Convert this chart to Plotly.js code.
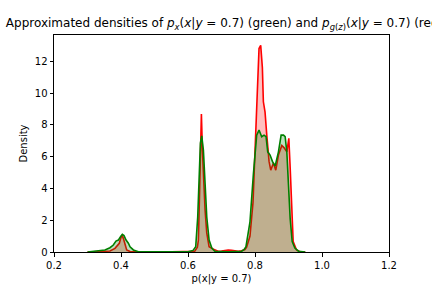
<!DOCTYPE html>
<html>
<head>
<meta charset="utf-8">
<script src="https://cdn.plot.ly/plotly-3.0.1.min.js"></script>
<style>html,body{margin:0;padding:0;background:#fff;}#chart{width:432px;height:288px;}</style>
</head>
<body>
<div id="chart"></div>
<script>
// Approximated density p_g(z)(x|y=0.7) (red)
const redX = [0.30,0.34,0.367,0.382,0.389,0.395,0.399,0.403,0.407,0.412,0.417,0.427,0.45,0.50,0.55,0.60,0.62,0.628,0.631,0.634,0.637,0.640,0.643,0.647,0.651,0.656,0.663,0.676,0.69,0.70,0.72,0.73,0.74,0.75,0.76,0.77,0.775,0.785,0.794,0.805,0.812,0.817,0.822,0.825,0.830,0.835,0.842,0.847,0.855,0.862,0.870,0.880,0.887,0.895,0.901,0.905,0.910,0.914,0.924,0.935,0.95];
const redY = [0,0.02,0.06,0.23,0.44,0.55,0.86,1.07,0.86,0.44,0.13,0.03,0.01,0.0,0.02,0.01,0.05,0.3,0.75,3.27,6.4,8.68,6.4,4.1,2.64,1.2,0.33,0.17,0.05,0.06,0.12,0.10,0.08,0.05,0.08,0.15,0.3,1.0,3.1,9.45,12.8,13.0,11.6,9.45,8.8,7.4,5.7,5.15,5.6,5.15,6.1,6.7,6.55,6.3,7.15,5.3,2.1,0.65,0.13,0.02,0];
// Approximated density p_x(x|y=0.7) (green)
const greenX = [0.30,0.337,0.352,0.367,0.377,0.385,0.392,0.399,0.404,0.409,0.415,0.422,0.427,0.437,0.452,0.50,0.60,0.615,0.623,0.629,0.633,0.637,0.641,0.646,0.651,0.656,0.663,0.671,0.68,0.72,0.76,0.767,0.773,0.785,0.795,0.805,0.812,0.820,0.827,0.833,0.838,0.845,0.852,0.860,0.870,0.878,0.885,0.890,0.895,0.900,0.905,0.911,0.919,0.93,0.95];
const greenY = [0,0.06,0.13,0.27,0.44,0.69,0.75,0.97,1.11,1.03,0.75,0.55,0.33,0.13,0.02,0.01,0.02,0.1,0.33,2.2,4.3,6.85,7.3,6.4,4.3,2.2,0.75,0.25,0.05,0.02,0.05,0.15,0.33,1.9,4.85,7.35,7.67,7.25,7.35,7.25,6.3,6.1,5.7,5.4,6.3,7.35,7.35,7.25,6.3,4.2,2.1,0.65,0.25,0.05,0];
const xTicks = [0.2,0.4,0.6,0.8,1.0,1.2];
const yTicks = [0,2,4,6,8,10,12];

const font = {family: 'DejaVu Sans', size: 10, color: '#000'};
const traces = [
  {x: redX, y: redY, type: 'scatter', mode: 'lines', fill: 'tozeroy',
   line: {color: '#ff0000', width: 1.6}, fillcolor: 'rgba(255,0,0,0.25)', hoverinfo: 'skip'},
  {x: greenX, y: greenY, type: 'scatter', mode: 'lines', fill: 'tozeroy',
   line: {color: '#008000', width: 1.6}, fillcolor: 'rgba(0,128,0,0.25)', hoverinfo: 'skip'}
];
const axisCommon = {
  showgrid: false, zeroline: false, showline: true, linecolor: '#000', linewidth: 1,
  mirror: true, ticks: 'outside', ticklen: 3.5, tickwidth: 1, tickcolor: '#000',
  tickfont: font
};
const layout = {
  width: 432, height: 288,
  margin: {l: 54, r: 43, t: 35, b: 36, pad: 0},
  paper_bgcolor: '#fff', plot_bgcolor: '#fff',
  showlegend: false,
  font: font,
  title: {
    text: 'Approximated densities of <i>p<sub>x</sub></i>(<i>x</i>|<i>y</i> = 0.7) (green) and <i>p<sub>g</sub></i><sub>(</sub><i><sub>z</sub></i><sub>)</sub>(<i>x</i>|<i>y</i> = 0.7) (red)',
    font: {family: 'DejaVu Sans', size: 12, color: '#000'},
    x: 0.5 + 3/335, xref: 'paper', xanchor: 'center',
    y: 1 - 23/288, yref: 'container', yanchor: 'middle'
  },
  xaxis: Object.assign({}, axisCommon, {
    range: [0.2, 1.2], tickvals: xTicks, ticktext: xTicks.map(v => v.toFixed(1)),
    title: {text: 'p(x|y = 0.7)', font: font, standoff: 5}
  }),
  yaxis: Object.assign({}, axisCommon, {
    range: [0, 13.65], tickvals: yTicks, ticktext: yTicks.map(String),
    title: {text: 'Density', font: font, standoff: 5}
  })
};
Plotly.newPlot('chart', traces, layout, {staticPlot: true, displayModeBar: false});
</script>
</body>
</html>
